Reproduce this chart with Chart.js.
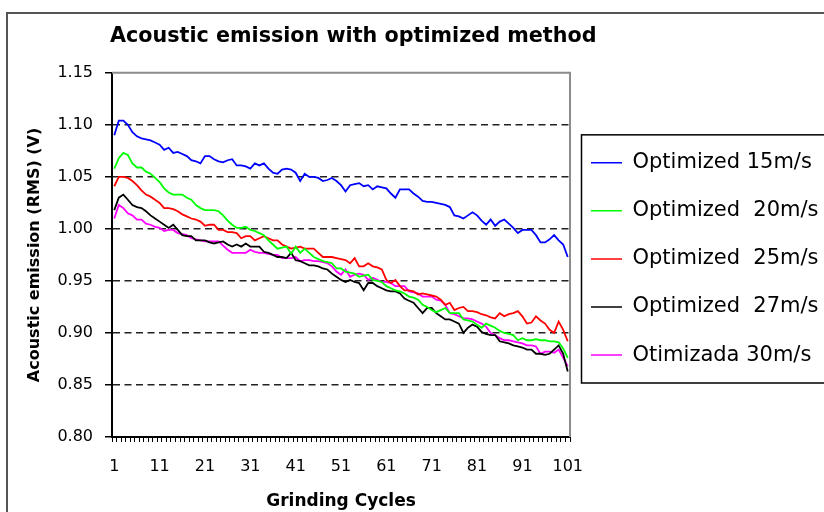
<!DOCTYPE html>
<html>
<head>
<meta charset="utf-8">
<script src="https://cdn.jsdelivr.net/npm/chart.js@4/dist/chart.umd.min.js"></script>
<style>
html,body{margin:0;padding:0;background:#fff;}
canvas{display:block;}
</style>
</head>
<body>
<canvas id="c" width="824" height="512"></canvas>
<script>
// ---- Data ----
const cycles = [1,2,3,4,5,6,7,8,9,10,11,12,13,14,15,16,17,18,19,20,21,22,23,24,25,26,27,28,29,30,
31,32,33,34,35,36,37,38,39,40,41,42,43,44,45,46,47,48,49,50,51,52,53,54,55,56,57,58,59,60,
61,62,63,64,65,66,67,68,69,70,71,72,73,74,75,76,77,78,79,80,81,82,83,84,85,86,87,88,89,90,
91,92,93,94,95,96,97,98,99,100,101];

const seriesNames = ['Optimized 15m/s', 'Optimized  20m/s', 'Optimized  25m/s', 'Optimized  27m/s', 'Otimizada 30m/s'];

const opt15 = [1.090,1.104,1.104,1.100,1.093,1.089,1.087,1.086,1.085,1.083,
1.081,1.076,1.078,1.073,1.074,1.072,1.070,1.066,1.065,1.063,
1.070,1.070,1.067,1.065,1.064,1.066,1.067,1.061,1.061,1.060,
1.058,1.063,1.061,1.063,1.058,1.054,1.053,1.057,1.058,1.057,
1.054,1.046,1.053,1.050,1.050,1.049,1.046,1.047,1.049,1.046,
1.042,1.036,1.042,1.043,1.044,1.041,1.042,1.038,1.041,1.040,
1.039,1.034,1.030,1.038,1.038,1.038,1.034,1.031,1.027,1.026,
1.026,1.025,1.024,1.023,1.021,1.013,1.012,1.010,1.013,1.016,
1.013,1.008,1.004,1.009,1.003,1.007,1.009,1.005,1.001,0.996,
0.999,0.999,0.999,0.994,0.987,0.987,0.990,0.994,0.989,0.985,
0.973];

const opt20 = [1.058,1.068,1.073,1.071,1.063,1.059,1.059,1.055,1.053,1.049,
1.045,1.039,1.035,1.033,1.033,1.033,1.030,1.028,1.023,1.020,
1.018,1.018,1.018,1.017,1.013,1.008,1.004,1.001,1.001,1.002,
0.999,0.998,0.996,0.994,0.989,0.985,0.981,0.982,0.983,0.976,
0.983,0.977,0.981,0.977,0.973,0.971,0.969,0.968,0.967,0.962,
0.962,0.959,0.958,0.957,0.954,0.955,0.956,0.951,0.950,0.949,
0.945,0.943,0.941,0.940,0.938,0.935,0.934,0.932,0.927,0.925,
0.922,0.920,0.922,0.924,0.919,0.919,0.919,0.913,0.912,0.911,
0.908,0.905,0.909,0.907,0.905,0.902,0.900,0.899,0.898,0.893,
0.895,0.893,0.893,0.894,0.893,0.893,0.892,0.892,0.891,0.885,
0.876];

const opt25 = [1.041,1.050,1.050,1.049,1.046,1.042,1.037,1.033,1.031,1.028,
1.025,1.020,1.020,1.019,1.017,1.014,1.012,1.010,1.009,1.007,
1.003,1.004,1.004,0.999,0.999,0.997,0.997,0.996,0.991,0.993,
0.993,0.989,0.991,0.993,0.991,0.989,0.989,0.985,0.983,0.981,
0.982,0.983,0.981,0.981,0.981,0.977,0.973,0.973,0.973,0.972,
0.971,0.970,0.967,0.972,0.964,0.964,0.967,0.964,0.963,0.961,
0.951,0.948,0.951,0.945,0.941,0.941,0.940,0.937,0.938,0.937,
0.936,0.935,0.932,0.927,0.929,0.922,0.924,0.925,0.921,0.921,
0.920,0.918,0.917,0.915,0.914,0.919,0.916,0.918,0.919,0.921,
0.916,0.909,0.910,0.916,0.912,0.909,0.903,0.900,0.911,0.903,
0.892];

const opt27 = [1.018,1.030,1.033,1.028,1.023,1.021,1.020,1.017,1.013,1.010,
1.007,1.004,1.001,1.004,0.999,0.994,0.993,0.993,0.989,0.989,
0.989,0.987,0.986,0.987,0.988,0.985,0.983,0.985,0.983,0.986,
0.983,0.983,0.983,0.978,0.977,0.975,0.973,0.973,0.972,0.977,
0.970,0.969,0.967,0.965,0.965,0.964,0.962,0.961,0.957,0.954,
0.951,0.949,0.951,0.949,0.948,0.941,0.948,0.948,0.945,0.943,
0.941,0.940,0.940,0.938,0.933,0.931,0.929,0.924,0.919,0.924,
0.924,0.919,0.916,0.913,0.913,0.911,0.909,0.900,0.905,0.908,
0.906,0.901,0.899,0.898,0.898,0.892,0.891,0.890,0.888,0.887,
0.886,0.884,0.884,0.880,0.880,0.879,0.880,0.884,0.888,0.880,
0.863];

const otim30 = [1.010,1.023,1.020,1.015,1.013,1.009,1.009,1.005,1.004,1.002,
1.001,0.998,0.999,0.999,0.996,0.995,0.994,0.991,0.990,0.989,
0.988,0.988,0.988,0.988,0.984,0.980,0.977,0.977,0.977,0.977,
0.980,0.978,0.977,0.977,0.976,0.975,0.975,0.972,0.972,0.972,
0.973,0.969,0.970,0.970,0.969,0.969,0.968,0.967,0.964,0.959,
0.956,0.961,0.954,0.956,0.957,0.956,0.951,0.953,0.951,0.949,
0.949,0.948,0.945,0.945,0.945,0.940,0.939,0.938,0.935,0.935,
0.935,0.932,0.931,0.927,0.919,0.918,0.916,0.914,0.914,0.913,
0.911,0.909,0.906,0.900,0.898,0.895,0.893,0.893,0.892,0.891,
0.890,0.888,0.888,0.887,0.880,0.882,0.882,0.881,0.884,0.876,
0.868];

const seriesColors = ['#0000FF', '#00FF00', '#FF0000', '#000000', '#FF00FF'];
const yMin = 0.80, yMax = 1.15, yStep = 0.05;

// ---- Chart ----
Chart.defaults.font.family = "'DejaVu Sans', sans-serif";
Chart.defaults.color = '#000';

const values = [opt15, opt20, opt25, opt27, otim30];

const decorPlugin = {
  id: 'decor',
  beforeDraw(chart) {
    const ctx = chart.ctx;
    ctx.save();
    ctx.fillStyle = '#fff';
    ctx.fillRect(0, 0, chart.width, chart.height);
    ctx.restore();
  },
  afterLayout(chart) {
    const t = chart.titleBlock;
    if (t) { t.left = chart.chartArea.left - 2; }
  },
  beforeDatasetsDraw(chart) {
    const {ctx, chartArea: a} = chart;
    ctx.save();
    ctx.strokeStyle = '#8c8c8c';
    ctx.lineWidth = 2;
    ctx.beginPath();
    ctx.moveTo(a.left, a.top);
    ctx.lineTo(a.right, a.top);
    ctx.lineTo(a.right, a.bottom);
    ctx.stroke();
    ctx.restore();
  },
  afterDraw(chart) {
    const {ctx, legend} = chart;
    ctx.save();
    ctx.strokeStyle = '#555';
    ctx.lineWidth = 2;
    ctx.beginPath();
    ctx.moveTo(7, chart.height);
    ctx.lineTo(7, 13);
    ctx.lineTo(chart.width, 13);
    ctx.stroke();
    ctx.strokeStyle = '#000';
    ctx.lineWidth = 1.5;
    ctx.strokeRect(legend.left + 11.5, legend.top + 62, chart.width, legend.bottom - legend.top - 116);
    ctx.restore();
  }
};

new Chart(document.getElementById('c'), {
  type: 'line',
  data: {
    labels: cycles,
    datasets: seriesNames.map((name, i) => ({
      label: name,
      data: values[i],
      borderColor: seriesColors[i],
      backgroundColor: seriesColors[i],
      borderWidth: 1.8,
      pointRadius: 0,
      pointHoverRadius: 0,
      tension: 0,
      fill: false
    }))
  },
  options: {
    responsive: false,
    devicePixelRatio: 1,
    animation: false,
    events: [],
    layout: { padding: 0 },
    scales: {
      x: {
        type: 'category',
        offset: true,
        grid: { offset: true, drawOnChartArea: false, drawTicks: true, tickLength: 5, tickColor: '#000', tickWidth: 1 },
        border: { display: true, color: '#000', width: 2 },
        ticks: {
          autoSkip: false, maxRotation: 0, minRotation: 0, padding: 15, color: '#000',
          font: { size: 16 },
          callback: (v, i) => (i % 10 === 0 ? String(cycles[i]) : '')
        },
        title: { display: true, text: 'Grinding Cycles', color: '#000', font: { size: 17, weight: 'bold', lineHeight: 1.2 }, padding: { top: 0, bottom: 0 } },
        afterFit: s => { s.height = 75; }
      },
      y: {
        min: yMin, max: yMax,
        grid: {
          color: c => (c.tick && (Math.abs(c.tick.value - yMax) < 1e-6 || Math.abs(c.tick.value - yMin) < 1e-6)) ? 'rgba(0,0,0,0)' : '#222',
          lineWidth: 1.5, drawTicks: true, tickLength: 7, tickColor: '#000', tickWidth: 1.5
        },
        border: { display: true, color: '#000', width: 2, dash: [7, 4.5] },
        ticks: { stepSize: yStep, padding: 12, color: '#000', font: { size: 16 }, callback: v => Number(v).toFixed(2) },
        title: { display: true, text: 'Acoustic emission (RMS) (V)', color: '#000', font: { size: 16, weight: 'bold', lineHeight: 1.2 }, padding: { top: 25, bottom: 0 } },
        afterFit: s => { s.width = 112; }
      }
    },
    plugins: {
      tooltip: { enabled: false },
      title: {
        display: true,
        text: 'Acoustic emission with optimized method',
        align: 'start',
        color: '#000',
        font: { size: 20.7, weight: 'bold', lineHeight: 1.2 },
        padding: { top: 24, bottom: 24 }
      },
      legend: {
        position: 'right',
        fullSize: false,
        maxWidth: 254,
        align: 'center',
        title: { display: true, text: ' ', font: { size: 11.67, lineHeight: 1.2 }, padding: 0 },
        labels: {
          usePointStyle: true,
          pointStyle: 'line',
          pointStyleWidth: 31,
          padding: 21,
          color: '#000',
          font: { size: 21, lineHeight: 1.29 },
          generateLabels: chart => Chart.defaults.plugins.legend.labels.generateLabels(chart).map(it => Object.assign(it, { text: [it.text], lineWidth: 1.5 }))
        }
      }
    }
  },
  plugins: [decorPlugin]
});
</script>
</body>
</html>
